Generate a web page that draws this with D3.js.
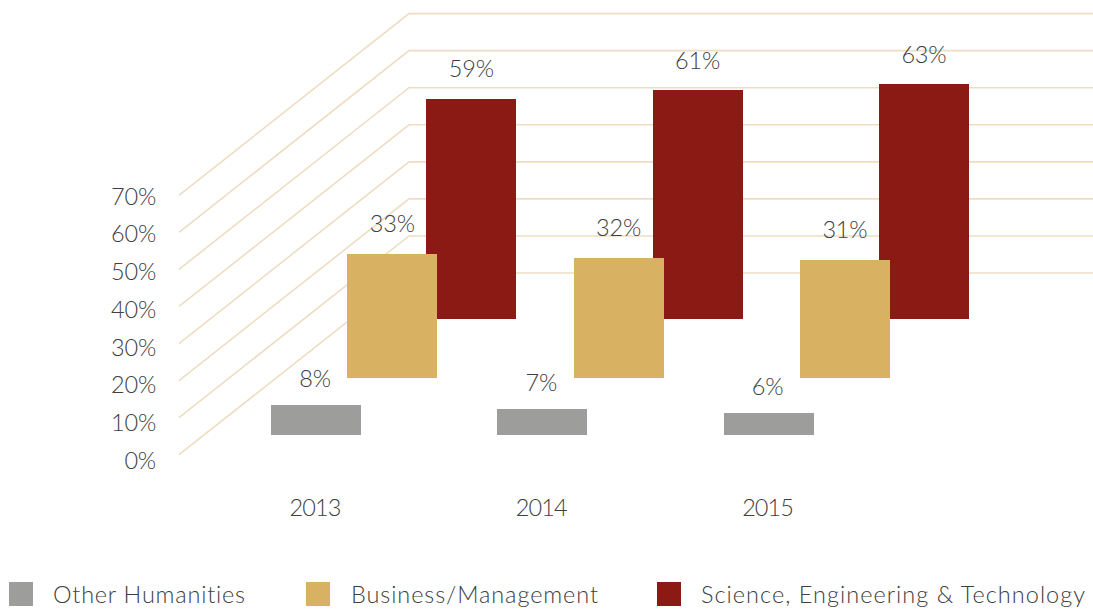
<!DOCTYPE html>
<html><head><meta charset="utf-8">
<style>html,body{margin:0;background:#fff}svg{display:block}text{font-family:Lato,sans-serif;font-weight:300;fill:#404040;font-variant-ligatures:none}</style>
<script src="https://cdn.jsdelivr.net/npm/d3@7"></script></head><body>
<svg id="c" width="1093" height="610"></svg>
<script>
const years=["2013","2014","2015"];
const seriesNames=["Other Humanities","Business/Management","Science, Engineering & Technology"];
const other=[8.2,7.1,6.0];
const business=[33.5,32.4,31.9];
const science=[59.4,61.8,63.4];
const otherLabels=[8,7,6];
const businessLabels=[33,32,31];
const scienceLabels=[59,61,63];
const ticks=[0,10,20,30,40,50,60,70];
const colors=["#9D9D9C","#D8B163","#8A1A13"];

const svg=d3.select("#c");
const h=d3.scaleLinear().domain([0,70]).range([0,259.4]);
const labelY=d3.scaleLinear().domain([0,70]).range([460.5,196.5]);
const xCat=d3.scaleBand().domain(years).range([271,949.9]);
const xDepth=d3.scaleOrdinal().domain(seriesNames).range([0,76.3,155.3]);
const baseY=d3.scaleOrdinal().domain(seriesNames).range([435.4,378,319]);
const col=d3.scaleOrdinal().domain(seriesNames).range(colors);
const labelGap=d3.scaleOrdinal().domain(seriesNames).range([26.5,29.7,29.7]);
const values=[other,business,science], labels=[otherLabels,businessLabels,scienceLabels];

// gridlines: side wall + back wall
const line=d3.line();
svg.append("g").selectAll("path").data(ticks).join("path")
  .attr("fill","none").attr("stroke","#EEDDC2").attr("stroke-width",1.6)
  .attr("d",t=>line([[179,454.7-h(t)],[409,273-h(t)],[1093,273-h(t)]]));

// y tick labels
svg.append("g").selectAll("text").data(ticks).join("text")
  .attr("x",156).attr("y",t=>labelY(t)).attr("dy","0.35em").attr("text-anchor","end")
  .attr("font-size",23.5).attr("letter-spacing",-0.2).text(t=>t+"%");

// bars (back to front)
const barW=90;
const order=[2,1,0];
order.forEach(i=>{
  const s=seriesNames[i];
  const left=y=>Math.round(xCat(y)+xDepth(s));
  const top=j=>Math.round(baseY(s)-h(values[i][j]));
  svg.append("g").selectAll("rect").data(years).join("rect")
    .attr("x",left).attr("width",barW)
    .attr("y",(y,j)=>top(j)).attr("height",(y,j)=>Math.round(baseY(s))-top(j))
    .attr("fill",col(s));
});
order.forEach(i=>{
  const s=seriesNames[i];
  svg.append("g").selectAll("text").data(years).join("text")
    .attr("x",y=>xCat(y)+xDepth(s)+barW/2-(i==0?1:0))
    .attr("y",(y,j)=>baseY(s)-h(values[i][j])-labelGap(s)).attr("dy","0.35em")
    .attr("text-anchor","middle").attr("font-size",23.5).attr("letter-spacing",-0.2)
    .text((y,j)=>labels[i][j]+"%");
});

// year labels
svg.append("g").selectAll("text").data(years).join("text")
  .attr("x",y=>xCat(y)+44).attr("y",507.5).attr("dy","0.35em")
  .attr("text-anchor","middle").attr("font-size",23.5).attr("letter-spacing",-0.9).text(y=>y);

// legend
const legSwatch=d3.scaleOrdinal().domain(seriesNames).range([9,306,657]);
const legText=d3.scaleOrdinal().domain(seriesNames).range([53,351,701]);
const legLen=d3.scaleOrdinal().domain(seriesNames).range([192,247,384]);
const leg=svg.append("g").selectAll("g").data(seriesNames).join("g");
leg.append("rect").attr("x",s=>legSwatch(s)).attr("y",582).attr("width",24).attr("height",24).attr("fill",s=>col(s));
leg.append("text").attr("x",s=>legText(s)).attr("y",595).attr("dy","0.35em")
  .attr("font-size",23.5).attr("textLength",s=>legLen(s)).attr("lengthAdjust","spacing").text(s=>s);
</script></body></html>
